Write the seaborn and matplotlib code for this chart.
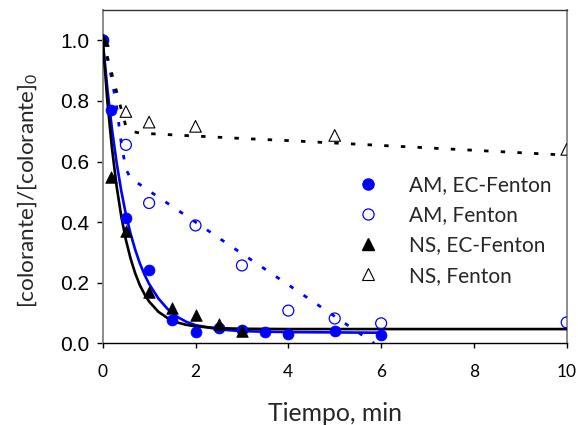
"""Decoloracion de colorantes: EC-Fenton vs Fenton."""

import matplotlib
matplotlib.use("Agg")
import matplotlib.pyplot as plt
from matplotlib.lines import Line2D
import seaborn as sns

# --- datos ---
# AM, EC-Fenton (circulos rellenos)
t_am_ec = [0, 0.17, 0.5, 1, 1.5, 2, 2.5, 3, 3.5, 4, 5, 6]
c_am_ec = [1.0, 0.771, 0.415, 0.242, 0.077, 0.036, 0.05, 0.045, 0.038, 0.031, 0.04, 0.027]

# AM, Fenton (circulos abiertos)
t_am_f = [0, 0.5, 1, 2, 3, 4, 5, 6, 10]
c_am_f = [1.0, 0.655, 0.463, 0.389, 0.257, 0.108, 0.082, 0.066, 0.069]

# NS, EC-Fenton (triangulos rellenos)
t_ns_ec = [0, 0.17, 0.5, 1, 1.5, 2, 2.5, 3]
c_ns_ec = [1.0, 0.55, 0.369, 0.168, 0.117, 0.093, 0.063, 0.04]

# NS, Fenton (triangulos abiertos)
t_ns_f = [0, 0.5, 1, 2, 5, 10]
c_ns_f = [1.0, 0.765, 0.73, 0.716, 0.686, 0.64]

# curvas de ajuste
fit_am_ec_t = [0, 0.1, 0.2, 0.3, 0.4, 0.5, 0.6, 0.7, 0.8, 0.9, 1.0, 1.2, 1.4,
               1.6, 1.8, 2.0, 2.5, 3, 4, 5, 6]
fit_am_ec_c = [1.0, 0.840, 0.706, 0.596, 0.503, 0.425, 0.362, 0.309, 0.264,
               0.227, 0.196, 0.148, 0.113, 0.088, 0.071, 0.060, 0.046, 0.040,
               0.037, 0.036, 0.035]

fit_ns_ec_t = [0, 0.1, 0.2, 0.3, 0.4, 0.5, 0.6, 0.7, 0.8, 0.9, 1.0, 1.2, 1.4,
               1.6, 1.8, 2.0, 2.5, 3, 4, 6, 8, 10]
fit_ns_ec_c = [1.0, 0.800, 0.643, 0.518, 0.419, 0.341, 0.280, 0.231, 0.192,
               0.162, 0.138, 0.104, 0.083, 0.069, 0.061, 0.056, 0.050, 0.048,
               0.047, 0.047, 0.047, 0.047]

fit_am_f_t = [0, 0.1, 0.2, 0.3, 0.4, 0.5, 0.6, 0.8, 1.0, 2, 3, 4, 5, 5.85]
fit_am_f_c = [1.0, 0.94, 0.87, 0.78, 0.66, 0.575, 0.545, 0.524, 0.503, 0.400,
              0.296, 0.193, 0.089, 0.0]

fit_ns_f_t = [0, 0.1, 0.2, 0.3, 0.4, 0.5, 0.6, 0.8, 1, 2, 3, 4, 5, 6, 7, 8, 9, 10]
fit_ns_f_c = [1.0, 0.945, 0.888, 0.830, 0.772, 0.716, 0.700, 0.694, 0.692,
              0.684, 0.676, 0.669, 0.661, 0.653, 0.645, 0.637, 0.629, 0.621]

x_ticks = [0, 2, 4, 6, 8, 10]
y_ticks = [0.0, 0.2, 0.4, 0.6, 0.8, 1.0]
labels = ["AM, EC-Fenton", "AM, Fenton", "NS, EC-Fenton", "NS, Fenton"]

BLUE = "#0000FF"
BLACK = "#000000"

sns.set_theme(style="ticks")
plt.rcParams["font.family"] = ["Lato", "DejaVu Sans"]
plt.rcParams["mathtext.default"] = "regular"

fig = plt.figure(figsize=(5.78, 4.25), dpi=100)
ax = fig.add_axes([0.1777, 0.1922, 0.8028, 0.7843])

dot = (0, (1.6, 4.4))

# lineas de ajuste
sns.lineplot(x=fit_am_f_t, y=fit_am_f_c, color=BLUE, lw=2.0, linestyle=dot,
             sort=False, estimator=None, ax=ax, zorder=2)
sns.lineplot(x=fit_ns_f_t, y=fit_ns_f_c, color=BLACK, lw=2.0, linestyle=dot,
             sort=False, estimator=None, ax=ax, zorder=2)
sns.lineplot(x=fit_am_ec_t, y=fit_am_ec_c, color=BLUE, lw=1.9,
             sort=False, estimator=None, ax=ax, zorder=3)
sns.lineplot(x=fit_ns_ec_t, y=fit_ns_ec_c, color=BLACK, lw=1.9,
             sort=False, estimator=None, ax=ax, zorder=3)

# puntos experimentales
sns.scatterplot(x=t_am_ec, y=c_am_ec, marker="o", s=62, color=BLUE,
                edgecolor=BLUE, linewidth=0.5, ax=ax, zorder=4)
sns.scatterplot(x=t_am_f, y=c_am_f, marker="o", s=62, facecolor="none",
                edgecolor=BLUE, linewidth=0.9, ax=ax, zorder=4)
sns.scatterplot(x=t_ns_ec, y=c_ns_ec, marker="^", s=70, color=BLACK,
                edgecolor=BLACK, linewidth=0.5, ax=ax, zorder=4)
sns.scatterplot(x=t_ns_f, y=c_ns_f, marker="^", s=70, facecolor="none",
                edgecolor=BLACK, linewidth=0.8, ax=ax, zorder=4)

ax.set_xlim(0, 10)
ax.set_ylim(0, 1.1)
ax.set_xticks(x_ticks)
ax.set_yticks(y_ticks)
ax.set_yticklabels([f"{v:.1f}" for v in y_ticks])
ax.tick_params(axis="x", labelsize=12.5, direction="out", length=3.8,
               width=1.0, pad=11, colors=BLACK)
ax.tick_params(axis="y", labelsize=15, direction="out", length=4.5,
               width=1.0, pad=5, colors=BLACK)
for lbl in ax.get_yticklabels():
    lbl.set_fontfamily(["Liberation Sans", "DejaVu Sans"])

for side in ["left", "right"]:
    ax.spines[side].set_color("#8c8c8c")
    ax.spines[side].set_linewidth(1.4)
ax.spines["bottom"].set_color(BLACK)
ax.spines["bottom"].set_linewidth(1.0)
ax.spines["top"].set_color("#333333")
ax.spines["top"].set_linewidth(1.0)

ax.set_xlabel("Tiempo, min", fontsize=17.8)
ax.xaxis.set_label_coords(0.5, -0.212)
ax.xaxis.label.set_va("center")
ax.set_ylabel("[colorante]/[colorante]$_0$", fontsize=16.2)
ax.yaxis.set_label_coords(-0.163, 0.458)
ax.yaxis.label.set_va("center")

handles = [
    Line2D([], [], ls="", marker="o", ms=8, mfc=BLUE, mec=BLUE),
    Line2D([], [], ls="", marker="o", ms=8, mfc="none", mec=BLUE, mew=0.9),
    Line2D([], [], ls="", marker="^", ms=8.5, mfc=BLACK, mec=BLACK),
    Line2D([], [], ls="", marker="^", ms=8.5, mfc="none", mec=BLACK, mew=0.8),
]
fig.legend(handles, labels, loc="upper left", frameon=False, fontsize=15,
           bbox_to_anchor=(358 / 578, 1 - 175 / 425), borderpad=0,
           borderaxespad=0, handlelength=1.0, handletextpad=1.45,
           labelspacing=0.49)

fig.savefig("out.png", dpi=100)
plt.close(fig)
